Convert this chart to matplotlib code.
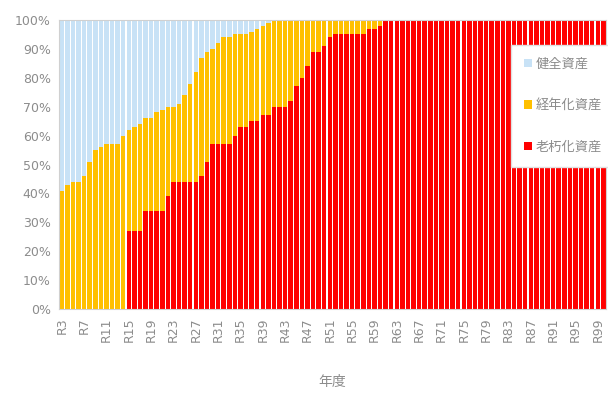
import matplotlib.pyplot as plt
import numpy as np

plt.rcParams['font.family'] = ['Noto Sans CJK JP', 'DejaVu Sans']

# 年度 R3 .. R100
years = ['R%d' % y for y in range(3, 101)]

# 老朽化資産 (%)
rouka = [0] * 12 + [27, 27, 27, 34, 34, 34, 34, 39, 44, 44, 44, 44, 44, 46, 51,
                    57, 57, 57, 57, 60, 63, 63, 65, 65, 67, 67, 70, 70, 70, 72, 77,
                    80, 84, 89, 89, 91, 94, 95, 95, 95, 95, 95, 95, 97, 97, 98] + [100] * 40
# 経年化資産 (%)
keinen = [41, 43, 44, 44, 46, 51, 55, 56, 57, 57, 57, 60,
          35, 36, 37, 32, 32, 34, 35, 31, 26, 27, 30, 34, 38, 41, 38,
          33, 35, 37, 37, 35, 32, 32, 31, 32, 31, 32, 30, 30, 30, 28, 23,
          20, 16, 11, 11, 9, 6, 5, 5, 5, 5, 5, 5, 3, 3, 2] + [0] * 40
# 健全資産 (%)
kenzen = [59, 57, 56, 56, 54, 49, 45, 44, 43, 43, 43, 40,
          38, 37, 36, 34, 34, 32, 31, 30, 30, 29, 26, 22, 18, 13, 11,
          10, 8, 6, 6, 5, 5, 5, 4, 3, 2, 1] + [0] * 60

fig = plt.figure(figsize=(6.08, 3.94), dpi=100)
ax = fig.add_axes([0.097, 0.2157, 0.9, 0.7335])

x = np.arange(len(years))
w = 0.8
ax.bar(x, rouka, w, color='#FF0000', label='老朽化資産')
ax.bar(x, keinen, w, bottom=rouka, color='#FFC000', label='経年化資産')
ax.bar(x, kenzen, w, bottom=np.array(rouka) + np.array(keinen), color='#C8E2F6', label='健全資産')

ax.set_xlim(-0.5, len(years) - 0.5)
ax.set_ylim(0, 100)
ax.set_yticks(range(0, 101, 10))
ax.set_yticklabels(['%d%%' % v for v in range(0, 101, 10)], family='DejaVu Sans')
ax.set_xticks(x[::4])
ax.set_xticklabels(years[::4], rotation=90, family='DejaVu Sans')
ax.tick_params(length=0, labelsize=9, colors='#8c8c8c', pad=6)
for s in ax.spines.values():
    s.set_color('#d0d0d0')
    s.set_linewidth(0.8)

ax.set_xlabel('年度', color='#8c8c8c', fontsize=10, labelpad=24)

handles, labels = ax.get_legend_handles_labels()
leg = ax.legend(handles[::-1], labels[::-1], loc='upper left', bbox_to_anchor=(0.826, 0.915),
                frameon=True, fancybox=False, fontsize=9.5, labelspacing=2.15,
                handlelength=0.6, handleheight=0.6, handletextpad=0.3,
                borderpad=1.0, borderaxespad=0, labelcolor='#8c8c8c')
leg.get_frame().set_edgecolor('#e0e0e0')
leg.get_frame().set_facecolor('white')
leg.get_frame().set_alpha(1)

fig.savefig('out.png', dpi=100)
